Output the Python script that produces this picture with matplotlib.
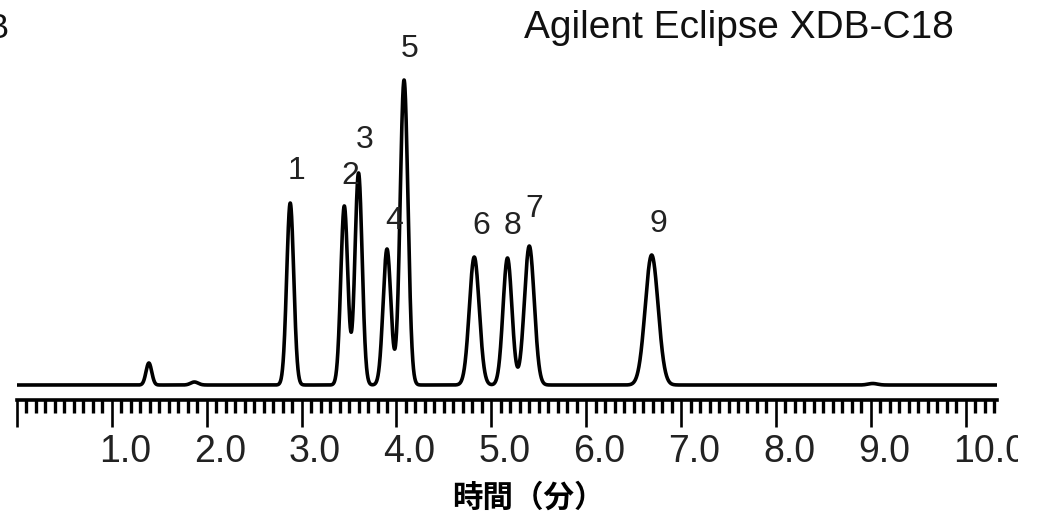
import numpy as np
import matplotlib.pyplot as plt
from matplotlib.patches import Rectangle
from matplotlib.ticker import FixedLocator, MultipleLocator
from matplotlib.transforms import ScaledTranslation

# peak table: retention time (min), height, sigma (min)
rt = [1.39, 1.87, 2.88, 3.45, 3.60, 3.90, 4.08, 4.82, 5.17, 5.40, 6.69, 9.02]
height = [22, 3, 182, 179, 212, 136, 305, 128, 127, 139, 130, 1.5]
sigma = [0.030, 0.040, 0.037, 0.037, 0.038, 0.041, 0.041, 0.052, 0.047, 0.052, 0.068, 0.050]
peak_names = ["", "", "1", "2", "3", "4", "5", "6", "8", "7", "9", ""]

tick_vals = [0, 1, 2, 3, 4, 5, 6, 7, 8, 9, 10]
tick_text = ["", "1.0", "2.0", "3.0", "4.0", "5.0", "6.0", "7.0", "8.0", "9.0", "10.0"]

# label placement relative to apex, in points
label_offsets = [None, None, (4.3, 17), (4.3, 16), (4.3, 18), (5, 14.5), (4.3, 16.5),
                 (5, 16.5), (3.6, 17), (3.6, 21), (5, 16.5), None]

t = np.linspace(0, 10.33, 6000)
signal = np.zeros_like(t)
for r, h, s in zip(rt, height, sigma):
    signal += h * np.exp(-0.5 * ((t - r) / s) ** 2)

plt.rcParams['font.family'] = ['Liberation Sans', 'DejaVu Sans']

fig = plt.figure(figsize=(10.41, 5.18), dpi=100)
ax = fig.add_axes([17 / 1041, 118 / 518, 980 / 1041, 400 / 518])
ax.plot(t, signal, color='black', lw=2.6, solid_joinstyle='round')
ax.set_xlim(0, 10.33)
ax.set_ylim(-15, 385)

for name, r, h, off in zip(peak_names, rt, height, label_offsets):
    if not name:
        continue
    ax.annotate(name, xy=(r, h), xytext=off, textcoords='offset points',
                ha='center', va='baseline', fontsize=23, color='#222222')

for side in ['top', 'right', 'left']:
    ax.spines[side].set_visible(False)
ax.spines['bottom'].set_linewidth(2.6)
ax.set_yticks([])

ax.xaxis.set_major_locator(FixedLocator(tick_vals))
ax.xaxis.set_minor_locator(MultipleLocator(0.1))
ax.set_xticklabels(tick_text)
ax.tick_params(axis='x', which='major', length=19.5, width=1.9, pad=5,
               labelsize=27, labelcolor='#222222')
ax.tick_params(axis='x', which='minor', length=9.4, width=2.4)

# tick labels start just left of their ticks
shift = ScaledTranslation(-13 / 100, 0, fig.dpi_scale_trans)
for lab in ax.get_xticklabels():
    lab.set_horizontalalignment('left')
    lab.set_transform(lab.get_transform() + shift)

# the last label runs off the right edge of the frame
fig.add_artist(Rectangle((1018 / 1041, 0), 1, 110 / 518, transform=fig.transFigure,
                         facecolor='white', edgecolor='none', zorder=10))

fig.text(739 / 1041, (518 - 38) / 518, "Agilent Eclipse XDB-C18", ha='center',
         va='baseline', fontsize=28, color='#111111')
fig.text(8 / 1041, (518 - 38) / 518, "B", ha='right', va='baseline',
         fontsize=25, color='#111111')
fig.text(452 / 1041, (518 - 498) / 518, "時間（分）", ha='left', va='center',
         fontsize=22, fontweight='bold', family=['Noto Sans CJK JP', 'DejaVu Sans'])

fig.savefig("out.png", dpi=100)
